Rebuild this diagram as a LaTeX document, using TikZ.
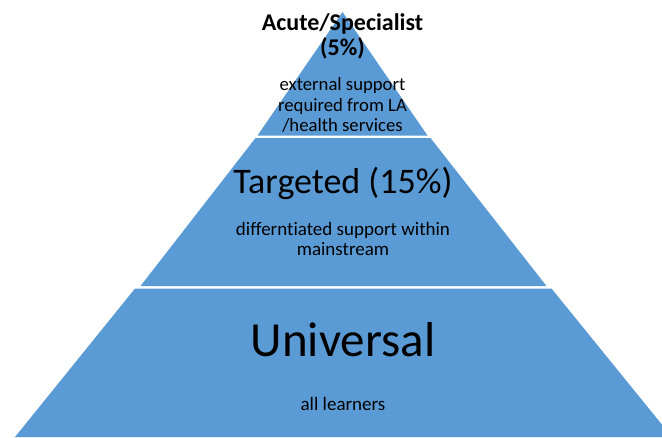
\documentclass[tikz,border=0pt]{standalone}
\usepackage{fontspec}
\setmainfont{Carlito}[Ligatures={NoCommon}]
\definecolor{tierblue}{HTML}{5B9BD5}
\tikzset{
  tier/.style={fill=tierblue, draw=none},
  lbl/.style={anchor=base, inner sep=0pt, text=black},
}
\begin{document}
\begin{tikzpicture}[x=1pt, y=-1pt]
\useasboundingbox (0,0) rectangle (662,437);
\clip (0,0) rectangle (662,437);
% tiers
\path[tier] (342.5,12) -- (427.5,135.5) -- (257.5,135.5) -- cycle;
\path[tier] (255.5,138) -- (430.5,138) -- (546.5,286) -- (140.5,286) -- cycle;
\path[tier] (135,288.5) -- (551.5,288.5) -- (672,437) -- (15,437) -- cycle;
% top tier text
\node[lbl, font=\fontsize{24}{25}\selectfont\bfseries] (t1) at (342.5,30) {Acute/Specialist};
\node[lbl, font=\fontsize{24}{25}\selectfont\bfseries] (t2) at (342.5,55) {(5\%)};
\node[lbl, font=\fontsize{18.7}{21}\selectfont] (t3) at (342.5,90) {external support};
\node[lbl, font=\fontsize{18.7}{21}\selectfont] (t4) at (342.5,111) {required from LA};
\node[lbl, font=\fontsize{18.7}{21}\selectfont] (t5) at (342.5,131.5) {/health services};
% middle tier text
\node[lbl, font=\fontsize{36}{40}\selectfont] (m1) at (343,193.5) {Targeted (15\%)};
\node[lbl, font=\fontsize{19}{20}\selectfont] (m2) at (343,235) {differntiated support within};
\node[lbl, font=\fontsize{19}{20}\selectfont] (m3) at (343,255) {mainstream};
% bottom tier text
\node[lbl, font=\fontsize{49}{55}\selectfont] (b1) at (343,356.5) {Universal};
\node[lbl, font=\fontsize{19}{20}\selectfont] (b2) at (343,410) {all learners};
\end{tikzpicture}
\end{document}
